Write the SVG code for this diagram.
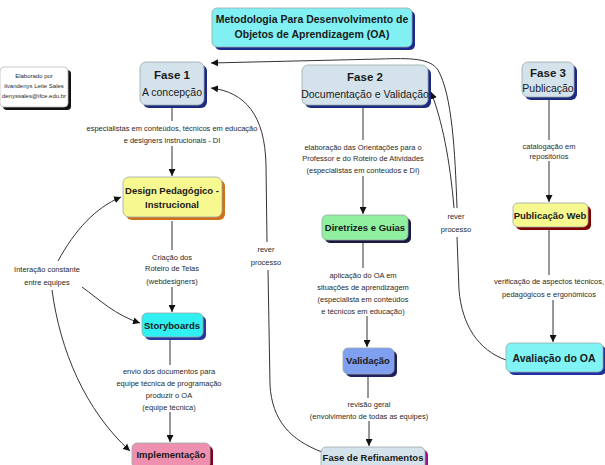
<svg xmlns="http://www.w3.org/2000/svg" width="605" height="465" viewBox="0 0 605 465">
<style>
.n{font-family:"Liberation Sans",Arial,sans-serif;font-weight:bold;fill:#1a1a1a;text-anchor:middle}
.r{font-family:"Liberation Sans",Arial,sans-serif;fill:#1a1a1a;text-anchor:middle}
.l{font-family:"Liberation Sans",Arial,sans-serif;font-size:7.5px;fill:#2a2a2a;text-anchor:middle}
.s{font-family:"Liberation Sans",Arial,sans-serif;font-size:6px;fill:#2a2a2a;text-anchor:middle}
.e{fill:none;stroke:#333;stroke-width:1}
.box{stroke:#9aa;stroke-width:0.8}
</style>
<defs>
<marker id="ah" viewBox="0 0 10 10" refX="10" refY="5" markerWidth="7" markerHeight="7" orient="auto" markerUnits="userSpaceOnUse">
<path d="M0,0 L10,5 L0,10 z" fill="#111"/>
</marker>
</defs>
<rect width="605" height="465" fill="#fff"/>

<g id="connectors">
<path class="e" d="M172,106 V121"/>
<path class="e" d="M172,146 V176" marker-end="url(#ah)"/>
<path class="e" d="M172,221 V250"/>
<path class="e" d="M172,287 V312" marker-end="url(#ah)"/>
<path class="e" d="M170,339 V365"/>
<path class="e" d="M170,412 V442" marker-end="url(#ah)"/>
<path class="e" d="M363,106 V140"/>
<path class="e" d="M363,176 V214" marker-end="url(#ah)"/>
<path class="e" d="M363,242 V268"/>
<path class="e" d="M367,316 V347" marker-end="url(#ah)"/>
<path class="e" d="M368,377 V398"/>
<path class="e" d="M369,421 V446" marker-end="url(#ah)"/>
<path class="e" d="M549,98 V140"/>
<path class="e" d="M549,161 V202" marker-end="url(#ah)"/>
<path class="e" d="M549,229 V275"/>
<path class="e" d="M553,300 V342" marker-end="url(#ah)"/>
<path class="e" d="M58,261 C75,230 95,208 121,197" marker-end="url(#ah)"/>
<path class="e" d="M82,287 C100,300 115,315 140,323" marker-end="url(#ah)"/>
<path class="e" d="M52,290 C60,350 85,410 130,451" marker-end="url(#ah)"/>
<path class="e" d="M322,452 C290,440 272,420 270,385 L268,270"/>
<path class="e" d="M267,242 L266,165 C265,115 245,92 211,88" marker-end="url(#ah)"/>
<path class="e" d="M506,360 C478,350 462,325 459,290 L457,237"/>
<path class="e" d="M454,208 C450,160 442,120 431,92" marker-end="url(#ah)"/>
<path class="e" d="M457,208 C455,150 452,95 438,70 C430,58 410,58 380,59 L211,63" marker-end="url(#ah)"/>
</g>

<g id="info">
<rect x="3" y="70" width="68" height="40" rx="4" fill="#111"/>
<rect x="0" y="67" width="68" height="40" rx="4" fill="#fff" stroke="#bbb" stroke-width="0.8"/>
<text class="s" x="34" y="78">Elaborado por</text>
<text class="s" x="34" y="88">ilvandenys Leite Sales</text>
<text class="s" x="34" y="98">denyssales@ifce.edu.br</text>
</g>

<g id="title">
<rect x="215" y="11" width="200" height="39" rx="5" fill="#1c2a8c"/>
<rect x="212" y="8" width="200" height="39" rx="5" fill="#80f0f2" class="box"/>
<text class="n" x="312" y="23" font-size="10.5">Metodologia Para Desenvolvimento de</text>
<text class="n" x="312" y="38" font-size="10.5">Objetos de Aprendizagem (OA)</text>
</g>

<g id="fase1">
<rect x="143" y="65" width="64" height="43" rx="6" fill="#1e2a80"/>
<rect x="140" y="62" width="64" height="43" rx="6" fill="#d4e3eb" class="box"/>
<text class="n" x="172" y="79" font-size="11.5">Fase 1</text>
<text class="r" x="172" y="96" font-size="10.5">A concepção</text>
</g>

<g id="fase2">
<rect x="305" y="68" width="126" height="40" rx="6" fill="#1e2a80"/>
<rect x="302" y="65" width="126" height="40" rx="6" fill="#d4e3eb" class="box"/>
<text class="n" x="365" y="81" font-size="11.5">Fase 2</text>
<text class="r" x="365" y="98" font-size="10.5">Documentação e Validação</text>
</g>

<g id="fase3">
<rect x="525" y="65" width="52" height="35" rx="6" fill="#1e2a80"/>
<rect x="522" y="62" width="52" height="35" rx="6" fill="#d4e3eb" class="box"/>
<text class="n" x="548" y="77" font-size="11.5">Fase 3</text>
<text class="r" x="548" y="92" font-size="10.5">Publicação</text>
</g>

<g id="design">
<rect x="126" y="180" width="99" height="40" rx="6" fill="#d0701a"/>
<rect x="123" y="177" width="99" height="40" rx="6" fill="#f8f890" class="box"/>
<text class="n" x="172" y="194" font-size="9.5">Design Pedagógico -</text>
<text class="n" x="172" y="208" font-size="9.5">Instrucional</text>
</g>

<g id="storyboards">
<rect x="145" y="316" width="61" height="24" rx="5" fill="#2838a0"/>
<rect x="142" y="313" width="61" height="24" rx="5" fill="#30f0f2" class="box"/>
<text class="n" x="172" y="328.5" font-size="9.5">Storyboards</text>
</g>

<g id="implementacao">
<rect x="135" y="446" width="78" height="25" rx="5" fill="#800020"/>
<rect x="132" y="443" width="78" height="25" rx="5" fill="#f090b0" class="box"/>
<text class="n" x="171" y="458" font-size="9.5">Implementação</text>
</g>

<g id="diretrizes">
<rect x="325" y="218" width="86" height="25" rx="5" fill="#1a1a40"/>
<rect x="322" y="215" width="86" height="25" rx="5" fill="#90f0a0" class="box"/>
<text class="n" x="365" y="231" font-size="9.5">Diretrizes e Guias</text>
</g>

<g id="validacao">
<rect x="346" y="351" width="51" height="26" rx="5" fill="#202060"/>
<rect x="343" y="348" width="51" height="26" rx="5" fill="#7f9ff0" class="box"/>
<text class="n" x="368" y="364" font-size="9.5">Validação</text>
</g>

<g id="refinamentos">
<rect x="324" y="450" width="104" height="25" rx="5" fill="#a01090"/>
<rect x="321" y="447" width="104" height="25" rx="5" fill="#d4e3eb" class="box"/>
<text class="n" x="373" y="461" font-size="9.5">Fase de Refinamentos</text>
</g>

<g id="pubweb">
<rect x="516" y="206" width="75" height="24" rx="5" fill="#800000"/>
<rect x="513" y="203" width="75" height="24" rx="5" fill="#f8f890" class="box"/>
<text class="n" x="550" y="218.5" font-size="9.5">Publicação Web</text>
</g>

<g id="avaliacao">
<rect x="509" y="346" width="97" height="29" rx="5" fill="#2030a0"/>
<rect x="506" y="343" width="97" height="29" rx="5" fill="#80f4f4" class="box"/>
<text class="n" x="554" y="361.5" font-size="10.5">Avaliação do OA</text>
</g>

<g id="labels">
<text class="l" x="172" y="131">especialistas em conteúdos, técnicos em educação</text>
<text class="l" x="172" y="143">e  designers instrucionais - DI</text>
<text class="l" x="363" y="150">elaboração das Orientações para o</text>
<text class="l" x="363" y="161">Professor e do Roteiro de Atividades</text>
<text class="l" x="363" y="173">(especialistas em conteúdos e DI)</text>
<text class="l" x="549" y="149">catalogação em</text>
<text class="l" x="549" y="159">repositórios</text>
<text class="l" x="172" y="260">Criação dos</text>
<text class="l" x="172" y="271">Roteiro de Telas</text>
<text class="l" x="172" y="284">(webdesigners)</text>
<text class="l" x="47" y="272">Interação constante</text>
<text class="l" x="47" y="285">entre equipes</text>
<text class="l" x="266" y="252">rever</text>
<text class="l" x="266" y="265">processo</text>
<text class="l" x="456" y="219">rever</text>
<text class="l" x="456" y="232">processo</text>
<text class="l" x="363" y="278">aplicação do OA em</text>
<text class="l" x="363" y="290">situações de aprendizagem</text>
<text class="l" x="363" y="302">(especialista em conteúdos</text>
<text class="l" x="363" y="314">e técnicos em educação)</text>
<text class="l" x="549" y="284">verificação de aspectos técnicos,</text>
<text class="l" x="549" y="297">pedagógicos e ergonômicos</text>
<text class="l" x="169" y="374">envio dos documentos para</text>
<text class="l" x="169" y="386">equipe técnica de programação</text>
<text class="l" x="169" y="398">produzir o OA</text>
<text class="l" x="169" y="410">(equipe técnica)</text>
<text class="l" x="369" y="407">revisão geral</text>
<text class="l" x="369" y="419">(envolvimento de todas as equipes)</text>
</g>
</svg>
